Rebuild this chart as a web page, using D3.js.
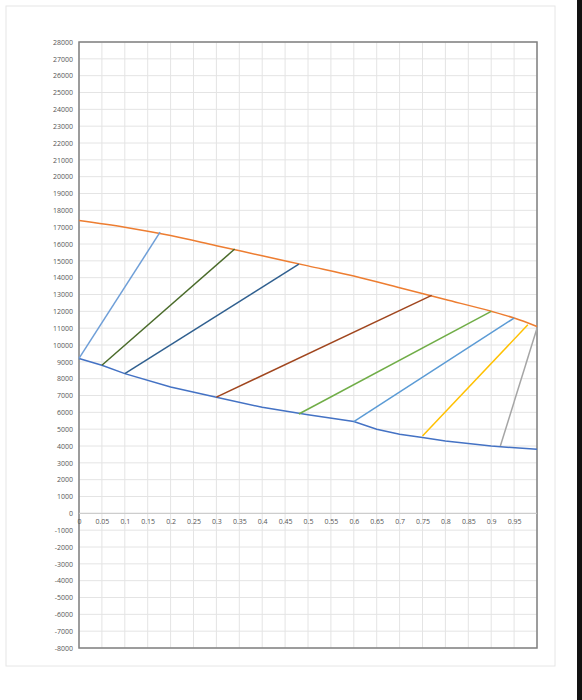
<!DOCTYPE html>
<html><head><meta charset="utf-8">
<script src="https://cdn.jsdelivr.net/npm/d3@7"></script>
<style>body{margin:0;background:#fff}</style>
</head><body><svg id="c"></svg>
<script>
const width = 582, height = 700;
const margin = {top: 42, right: 45, bottom: 52, left: 79};

// upper curve (orange)
const upperX = [0, 0.1, 0.2, 0.3, 0.4, 0.5, 0.6, 0.7, 0.8, 0.9, 0.95, 1.0];
const upperY = [17400, 17000, 16500, 15900, 15300, 14700, 14100, 13400, 12700, 12000, 11600, 11100];
// lower curve (blue)
const lowerX = [0, 0.05, 0.1, 0.2, 0.3, 0.4, 0.5, 0.6, 0.65, 0.7, 0.75, 0.8, 0.9, 1.0];
const lowerY = [9200, 8800, 8300, 7500, 6900, 6300, 5850, 5450, 5000, 4700, 4500, 4300, 4000, 3800];
// tie lines
const tieX1 = [0, 0.05, 0.1, 0.3, 0.48, 0.6, 0.75, 0.92];
const tieY1 = [9200, 8800, 8300, 6900, 5900, 5450, 4600, 4000];
const tieX2 = [0.177, 0.34, 0.48, 0.77, 0.9, 0.95, 0.98, 1.0];
const tieY2 = [16700, 15700, 14800, 12950, 12000, 11600, 11200, 11000];
const tieColors = ["#6f9fd8", "#4a6b2a", "#2f5f8f", "#a0461e", "#70ad47", "#5b9bd5", "#ffc000", "#a5a5a5"];

const xTicks = d3.range(0, 21).map(i => i * 0.05);
const yTicks = d3.range(-8, 29).map(i => i * 1000);

const svg = d3.select("#c").attr("width", width).attr("height", height);
svg.append("rect").attr("x", 6).attr("y", 6).attr("width", 549).attr("height", 660)
  .attr("fill", "none").attr("stroke", "#e6e6e6");
svg.append("rect").attr("x", 577).attr("y", 0).attr("width", 5).attr("height", height).attr("fill", "#111");

const x = d3.scaleLinear().domain([0, 1]).range([margin.left, width - margin.right]);
const y = d3.scaleLinear().domain([-8000, 28000]).range([height - margin.bottom, margin.top]);

const grid = svg.append("g").attr("stroke", "#e4e4e4").attr("stroke-width", 1);
xTicks.forEach(t => grid.append("line").attr("x1", x(t)).attr("x2", x(t)).attr("y1", y(28000)).attr("y2", y(-8000)));
yTicks.forEach(t => grid.append("line").attr("x1", x(0)).attr("x2", x(1)).attr("y1", y(t)).attr("y2", y(t)));

svg.append("rect").attr("x", x(0)).attr("y", y(28000)).attr("width", x(1) - x(0)).attr("height", y(-8000) - y(28000))
  .attr("fill", "none").attr("stroke", "#808080").attr("stroke-width", 1.5);
svg.append("line").attr("x1", x(0)).attr("x2", x(1)).attr("y1", y(0)).attr("y2", y(0)).attr("stroke", "#c8c8c8");

const font = "Open Sans";
const yAxis = d3.axisLeft(y).tickValues(yTicks).tickSize(0).tickPadding(6).tickFormat(d => String(d));
svg.append("g").attr("transform", `translate(${x(0)},0)`).call(yAxis)
  .call(g => g.select(".domain").remove())
  .selectAll("text").style("font-family", font).style("font-size", "7px").attr("fill", "#555");

const xAxis = d3.axisBottom(x).tickValues(xTicks).tickSize(0).tickPadding(6)
  .tickFormat(d => d === 1 ? "" : d3.format("~g")(d));
svg.append("g").attr("transform", `translate(0,${y(0)})`).call(xAxis)
  .call(g => g.select(".domain").remove())
  .selectAll("text").style("font-family", font).style("font-size", "7px").attr("fill", "#555");

const line = d3.line().x(d => x(d[0])).y(d => y(d[1]));
svg.append("path").datum(upperX.map((v, i) => [v, upperY[i]])).attr("d", line.curve(d3.curveMonotoneX))
  .attr("fill", "none").attr("stroke", "#ed7d31").attr("stroke-width", 1.5);
svg.append("path").datum(lowerX.map((v, i) => [v, lowerY[i]])).attr("d", line.curve(d3.curveLinear))
  .attr("fill", "none").attr("stroke", "#4472c4").attr("stroke-width", 1.5);

tieX1.forEach((v, i) => {
  svg.append("line").attr("x1", x(v)).attr("y1", y(tieY1[i])).attr("x2", x(tieX2[i])).attr("y2", y(tieY2[i]))
    .attr("stroke", tieColors[i]).attr("stroke-width", 1.5);
});
</script></body></html>
